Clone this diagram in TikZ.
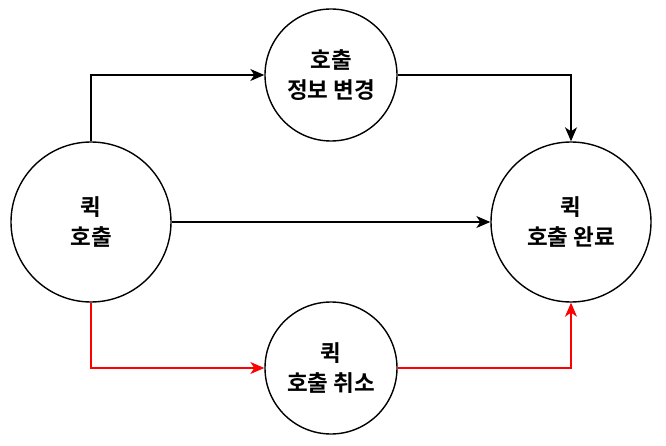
\documentclass[tikz,border=0pt]{standalone}
\usepackage{fontspec}
\newfontfamily\krb{Noto Sans CJK KR}[UprightFont=* Bold]
\usetikzlibrary{arrows.meta}
\definecolor{redline}{RGB}{255,0,0}
\tikzset{
  state/.style={circle, draw=black, line width=1.4pt, fill=white, inner sep=0pt, align=center, font=\krb\fontsize{22.5}{30}\selectfont},
  big/.style={state, minimum size=160pt},
  small/.style={state, minimum size=132pt},
  conn/.style={line width=1.4pt, -{Stealth[length=14pt,width=12pt,inset=4pt]}},
  redconn/.style={conn, draw=redline, -{Stealth[length=14pt,width=12pt,inset=4pt,fill=redline]}}
}
\begin{document}
\begin{tikzpicture}[x=1pt,y=-1pt]
\useasboundingbox (0,0) rectangle (666,446);
\node[big] (quick) at (91,222) {퀵\\호출};
\node[small] (info) at (331,75) {호출\\정보 변경};
\node[big] (done) at (571,222) {퀵\\호출 완료};
\node[small] (cancel) at (331,368) {퀵\\호출 취소};
\draw[conn] (quick.north) |- (info.west);
\draw[conn] (info.east) -| (done.north);
\draw[conn] (quick.east) -- (done.west);
\draw[redconn] (quick.south) |- (cancel.west);
\draw[redconn] (cancel.east) -| (done.south);
\end{tikzpicture}
\end{document}
